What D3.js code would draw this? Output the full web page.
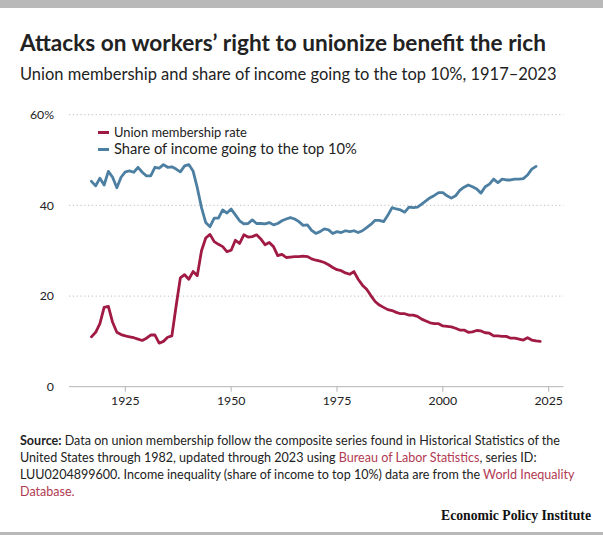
<!DOCTYPE html>
<html><head><meta charset="utf-8">
<script src="https://cdn.jsdelivr.net/npm/d3@7"></script>
<style>
html,body{margin:0;padding:0;background:#fff;}
svg{display:block;}
</style></head>
<body>
<svg id="chart" width="603" height="535" font-family="Lato, 'Open Sans', sans-serif"></svg>
<script>
// ---- data ----
const firstYear = 1917;
const unionRate = [
  11.0, 12.0, 13.9,
  17.5, 17.7, 14.2, 12.0, 11.5, 11.2, 11.0, 10.8, 10.5, 10.2,
  10.7, 11.4, 11.4, 9.6, 10.0, 10.9, 11.2, 17.8, 24.0, 24.7,
  23.7, 25.4, 24.5, 30.0, 32.8, 33.6, 32.0, 31.4, 30.9, 29.8,
  30.1, 32.3, 31.6, 33.5, 33.0, 33.1, 33.5, 32.6, 31.3, 31.8,
  30.9, 28.9, 29.2, 28.5, 28.6, 28.7, 28.7, 28.8, 28.7, 28.2,
  27.9, 27.7, 27.4, 26.9, 26.3, 25.8, 25.6, 25.1, 24.8, 25.4,
  23.7, 22.4, 21.5, 20.1, 18.8, 18.0, 17.5, 17.0, 16.8, 16.4,
  16.1, 16.1, 15.8, 15.8, 15.5, 14.9, 14.5, 14.1, 13.9, 13.9,
  13.4, 13.3, 13.2, 12.9, 12.5, 12.5, 12.0, 12.1, 12.4, 12.3,
  11.9, 11.8, 11.2, 11.2, 11.1, 11.1, 10.7, 10.7, 10.5, 10.3,
  10.8, 10.3, 10.1, 10.0
];
const top10Share = [
  45.3, 44.3, 46.0,
  44.5, 47.5, 46.2, 43.9, 46.2, 47.4, 47.6, 47.3, 48.4, 47.3,
  46.5, 46.5, 48.4, 48.2, 49.0, 48.4, 48.5, 48.0, 47.4, 48.7,
  49.0, 47.6, 43.9, 39.5, 36.2, 35.3, 37.2, 37.2, 39.0, 38.3,
  39.2, 37.9, 36.6, 35.9, 36.0, 36.8, 36.0, 36.0, 35.9, 36.2,
  35.7, 36.0, 36.6, 37.0, 37.3, 37.0, 36.4, 35.6, 35.7, 34.5,
  33.8, 34.2, 34.8, 34.6, 33.8, 34.2, 34.0, 34.4, 34.2, 34.4,
  34.0, 34.4, 35.1, 35.8, 36.7, 36.7, 36.4, 37.8, 39.5, 39.2,
  39.0, 38.5, 39.6, 39.5, 39.6, 40.3, 41.0, 41.7, 42.2, 42.8,
  42.8, 42.1, 41.6, 42.1, 43.3, 44.0, 44.5, 44.1, 43.6, 42.7,
  44.1, 44.7, 45.8, 45.0, 45.8, 45.6, 45.6, 45.8, 45.8, 45.9,
  46.7, 48.0, 48.6
];
const seriesNames = ["Union membership rate", "Share of income going to the top 10%"];
const xTicks = [1925, 1950, 1975, 2000, 2025];
const yTicks = [0, 20, 40, 60];
const titleText = "Attacks on workers\u2019 right to unionize benefit the rich";
const subtitleText = "Union membership and share of income going to the top 10%, 1917\u20132023";

// ---- styles ----
const RED = "#a01a43", BLUE = "#4c7fa1", TEXT = "#222", LINK = "#b13a52";

const svg = d3.select("#chart");
svg.append("rect").attr("x",0).attr("y",0).attr("width",603).attr("height",8).attr("fill","#b9b9b9");
svg.append("rect").attr("x",0).attr("y",532).attr("width",603).attr("height",3).attr("fill","#b9b9b9");

function fit(sel, target){
  const n = sel.node();
  const fs = parseFloat(sel.attr("font-size"));
  const w = n.getComputedTextLength();
  sel.attr("font-size", (fs*target/w).toFixed(2));
  return fs*target/w;
}

const title = svg.append("text").attr("x",20).attr("y",51).attr("font-size",22)
  .attr("font-weight",700).attr("fill",TEXT).text(titleText);
fit(title, 526);
const sub = svg.append("text").attr("x",20).attr("y",80).attr("font-size",16)
  .attr("fill",TEXT).text(subtitleText);
fit(sub, 537);

// ---- scales ----
const x = d3.scaleLinear().domain([1925, 2025]).range([125.3, 548.7]);
const y = d3.scaleLinear().domain([0, 60]).range([386.7, 114.7]);
const xLeft = 69, xRight = 563.3;

// gridlines
svg.append("g").selectAll("line").data(yTicks.filter(d=>d>0)).join("line")
  .attr("x1", xLeft).attr("x2", xRight)
  .attr("y1", d=>y(d)).attr("y2", d=>y(d))
  .attr("stroke","#c9c9c9").attr("stroke-width",1.2).attr("stroke-dasharray","1.2,2.6");
// baseline
svg.append("line").attr("x1",xLeft).attr("x2",xRight).attr("y1",y(0)).attr("y2",y(0))
  .attr("stroke","#b3b3b3").attr("stroke-width",1);
// x ticks
svg.append("g").selectAll("line").data(xTicks).join("line")
  .attr("x1",d=>x(d)).attr("x2",d=>x(d)).attr("y1",y(0)).attr("y2",y(0)+5)
  .attr("stroke","#b3b3b3").attr("stroke-width",1);
svg.append("g").selectAll("text").data(xTicks).join("text")
  .attr("x",d=>x(d)).attr("y",y(0)+18.5).attr("text-anchor","middle")
  .attr("font-size",12.3).attr("fill",TEXT).text(d=>d);
// y labels
svg.append("g").selectAll("text").data(yTicks).join("text")
  .attr("x",54).attr("y",d=>y(d)+4.3).attr("text-anchor","end")
  .attr("font-size",12.3).attr("fill",TEXT).text(d=> d===60 ? d+"%" : d);

// lines
const line = d3.line().x((d,i)=>x(firstYear+i)).y(d=>y(d));
svg.append("path").datum(top10Share).attr("d",line).attr("fill","none")
  .attr("stroke",BLUE).attr("stroke-width",2.8).attr("stroke-linejoin","round").attr("stroke-linecap","round");
svg.append("path").datum(unionRate).attr("d",line).attr("fill","none")
  .attr("stroke",RED).attr("stroke-width",2.8).attr("stroke-linejoin","round").attr("stroke-linecap","round");

// legend
const lg = svg.append("g");
const legendColors = [RED, BLUE];
const legendY = [132.5, 149.5];
seriesNames.forEach((nm,i)=>{
  lg.append("line").attr("x1",98).attr("x2",109).attr("y1",legendY[i]).attr("y2",legendY[i])
    .attr("stroke",legendColors[i]).attr("stroke-width",3);
  const t = lg.append("text").attr("x",114).attr("y",legendY[i]+4.5).attr("font-size",12.5)
    .attr("fill",TEXT).text(nm);
  if(i===0) fit(t, 133);
  else fit(t, 243);
});

// source
const srcSize = 12.6;
const srcLines = [
  [{t:"Source:",b:true},{t:" Data on union membership follow the composite series found in Historical Statistics of the"}],
  [{t:"United States through 1982, updated through 2023 using "},{t:"Bureau of Labor Statistics",l:true},{t:", series ID:"}],
  [{t:"LUU0204899600. Income inequality (share of income to top 10%) data are from the "},{t:"World Inequality",l:true}],
  [{t:"Database.",l:true}]
];
const srcBase = [445, 462, 479, 496];
const srcTexts = [];
srcLines.forEach((parts,i)=>{
  const t = svg.append("text").attr("x",20).attr("y",srcBase[i]).attr("font-size",srcSize).attr("fill",TEXT);
  parts.forEach(p=>{
    t.append("tspan").attr("font-weight",p.b?700:400).attr("fill",p.l?LINK:TEXT).text(p.t);
  });
  srcTexts.push(t);
});
const fs0 = fit(srcTexts[0], 540);
srcTexts.slice(1).forEach(t=>t.attr("font-size",fs0.toFixed(2)));

const epi = svg.append("text").attr("x",591).attr("y",520).attr("text-anchor","end")
  .style("font-family","'Liberation Serif','DejaVu Serif',serif").attr("font-weight",700)
  .attr("font-size",14).attr("fill","#111").text("Economic Policy Institute");
fit(epi, 150);
</script>
</body></html>
